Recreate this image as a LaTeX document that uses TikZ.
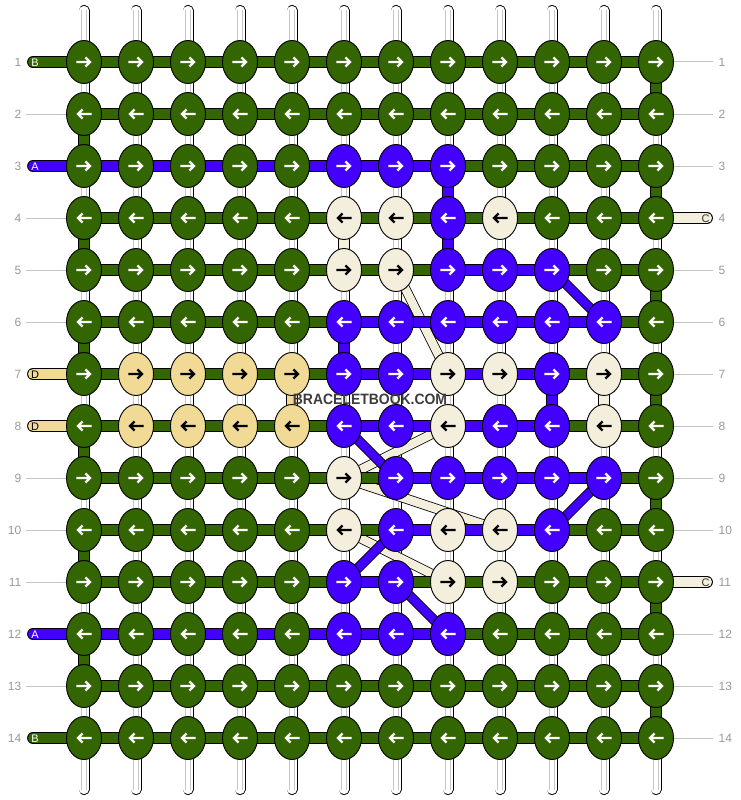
\documentclass[tikz,border=0pt]{standalone}
\usepackage{fontspec}
\setmainfont{Liberation Sans}
\usetikzlibrary{shapes.geometric}
\definecolor{kg}{HTML}{336600}
\definecolor{kb}{HTML}{4400FF}
\definecolor{kc}{HTML}{F4EEDD}
\definecolor{kt}{HTML}{F0DA96}
\definecolor{lblgray}{HTML}{999999}
\definecolor{linegray}{HTML}{C4C4C4}
\definecolor{wmark}{HTML}{3C3C3C}
\pgfdeclarelayer{warp}
\pgfdeclarelayer{diag}
\pgfdeclarelayer{bars}
\pgfsetlayers{warp,diag,bars,main}
\tikzset{
  knot/.style={ellipse, draw=black, line width=0.9pt, minimum width=35pt,
    minimum height=43pt, inner sep=0pt,
    path picture={\draw[draw=\arrowcol, line width=2.4pt, line join=miter,
      shift={(path picture bounding box.center)}]
      ({-7.6*\dir},0) -- ({5.6*\dir},0) ({1.4*\dir},-4.6) -- ({6*\dir},0) -- ({1.4*\dir},4.6);}},
  gk/.style={fill=kg, /utils/exec={\def\arrowcol{white}}},
  bk/.style={fill=kb, /utils/exec={\def\arrowcol{white}}},
  ck/.style={fill=kc, /utils/exec={\def\arrowcol{black}}},
  tk/.style={fill=kt, /utils/exec={\def\arrowcol{black}}},
  bar/.style={draw=black, line width=0.9pt, double=kg, double distance=10pt},
  diagbar/.style={draw=black, line width=0.8pt, double distance=8.4pt},
  warpbar/.style={draw=black, line width=0.9pt, double=white, double distance=9.2pt, line cap=round},
  warpline/.style={draw=gray!45, line width=0.7pt},
  thinline/.style={draw=linegray, line width=1pt},
  rownum/.style={text=lblgray, font=\fontsize{12}{12}\selectfont, inner sep=0pt},
  strandlbl/.style={font=\fontsize{11}{11}\selectfont, inner sep=0pt}
}
\begin{document}
\begin{tikzpicture}[x=1pt,y=-1pt]
\useasboundingbox (0,0) rectangle (740,800);
% knots
\foreach \r/\cols in {
 1/{g,g,g,g,g,g,g,g,g,g,g,g},
 2/{g,g,g,g,g,g,g,g,g,g,g,g},
 3/{g,g,g,g,g,b,b,b,g,g,g,g},
 4/{g,g,g,g,g,c,c,b,c,g,g,g},
 5/{g,g,g,g,g,c,c,b,b,b,g,g},
 6/{g,g,g,g,g,b,b,b,b,b,b,g},
 7/{g,t,t,t,t,b,b,c,c,b,c,g},
 8/{g,t,t,t,t,b,b,c,b,b,c,g},
 9/{g,g,g,g,g,c,b,b,b,b,b,g},
 10/{g,g,g,g,g,c,b,c,c,b,g,g},
 11/{g,g,g,g,g,b,b,c,c,g,g,g},
 12/{g,g,g,g,g,b,b,b,g,g,g,g},
 13/{g,g,g,g,g,g,g,g,g,g,g,g},
 14/{g,g,g,g,g,g,g,g,g,g,g,g}}{
  \ifodd\r\relax \gdef\dir{1}\else \gdef\dir{-1}\fi
  \foreach \col [count=\c] in \cols {
    \node[knot, \col k] (k-\r-\c) at ({32+52*\c},{10+52*\r}) {};
  }
}
% warp strands
\begin{pgfonlayer}{warp}
\foreach \c in {1,...,12}{
  \coordinate (wt-\c) at ({32+52*\c},10.5);
  \coordinate (wb-\c) at ({32+52*\c},789.5);
  \draw[warpbar] (wt-\c) -- (wb-\c);
  \draw[warpline] ([xshift=-2.7pt]wt-\c) -- ([xshift=-2.7pt]wb-\c);
  \draw[warpline] ([xshift=2.7pt]wt-\c) -- ([xshift=2.7pt]wb-\c);
}
\end{pgfonlayer}
% diagonal strands
\begin{pgfonlayer}{diag}
\foreach \ra/\ca/\rb/\cb in {5/7/7/8, 8/8/9/6, 9/6/10/9, 10/6/11/8}
  \draw[diagbar, double=kc] (k-\ra-\ca.center) -- (k-\rb-\cb.center);
\foreach \ra/\ca/\rb/\cb in {5/10/6/11, 8/6/9/7, 9/11/10/10, 10/7/11/6, 11/7/12/8}
  \draw[diagbar, double=kb] (k-\ra-\ca.center) -- (k-\rb-\cb.center);
\end{pgfonlayer}
% bars
\begin{pgfonlayer}{bars}
\foreach \r in {1,...,14}
  \draw[bar] (k-\r-1.center) -- (k-\r-12.center);
\foreach \r/\a/\b in {3/1/8, 5/8/10, 6/6/11, 7/6/10, 8/6/10, 9/7/11, 10/7/10, 11/6/7, 12/1/8}
  \draw[bar, double=kb] (k-\r-\a.center) -- (k-\r-\b.center);
\foreach \c/\r/\colr in {1/2/kg, 1/4/kg, 1/6/kg, 1/8/kg, 1/10/kg, 1/12/kg,
  12/1/kg, 12/3/kg, 12/5/kg, 12/7/kg, 12/9/kg, 12/11/kg, 12/13/kg,
  8/3/kb, 8/4/kb, 6/4/kc, 6/6/kb, 10/7/kb, 11/7/kc, 5/7/kt}{
  \pgfmathtruncatemacro\rn{\r+1}
  \draw[bar, double=\colr] (k-\r-\c.center) -- (k-\rn-\c.center);
}
% left strands
\foreach \r/\colr/\lbl/\tc in {1/kg/B/white, 3/kb/A/white, 7/kt/D/black, 8/kt/D/black, 12/kb/A/white, 14/kg/B/white}{
  \coordinate (ls-\r) at (33,{10+52*\r});
  \draw[bar, double=\colr, line cap=round] (ls-\r) -- (k-\r-1.center);
  \node[strandlbl, text=\tc] (sl-\r) at (35,{10.5+52*\r}) {\lbl};
}
% right strands
\foreach \r in {4,11}{
  \coordinate (rs-\r) at (707,{10+52*\r});
  \draw[bar, double=kc, line cap=round] (k-\r-12.center) -- (rs-\r);
  \node[strandlbl, text=black!80] (sr-\r) at (705.5,{10.5+52*\r}) {C};
}
% thin lines
\foreach \r in {2,4,5,6,9,10,11,13}{
  \coordinate (tl-\r) at (26,{10+52*\r});
  \draw[thinline] (tl-\r) -- (k-\r-1.west);
}
\foreach \r in {1,2,3,5,6,7,8,9,10,12,13,14}{
  \coordinate (tr-\r) at (713,{10+52*\r});
  \draw[thinline] (k-\r-12.east) -- (tr-\r);
}
\end{pgfonlayer}
% row numbers
\foreach \r in {1,...,14}{
  \node[rownum, anchor=east] (nl-\r) at (21.5,{10.5+52*\r}) {\r};
  \node[rownum, anchor=west] (nr-\r) at (718.5,{10.5+52*\r}) {\r};
}
% watermark
\node[text=wmark, inner sep=0pt, font=\bfseries\fontsize{15}{15}\selectfont] (wm) at (370,399.5) {\scalebox{0.93}[1]{BRACELETBOOK.COM}};
\end{tikzpicture}
\end{document}
